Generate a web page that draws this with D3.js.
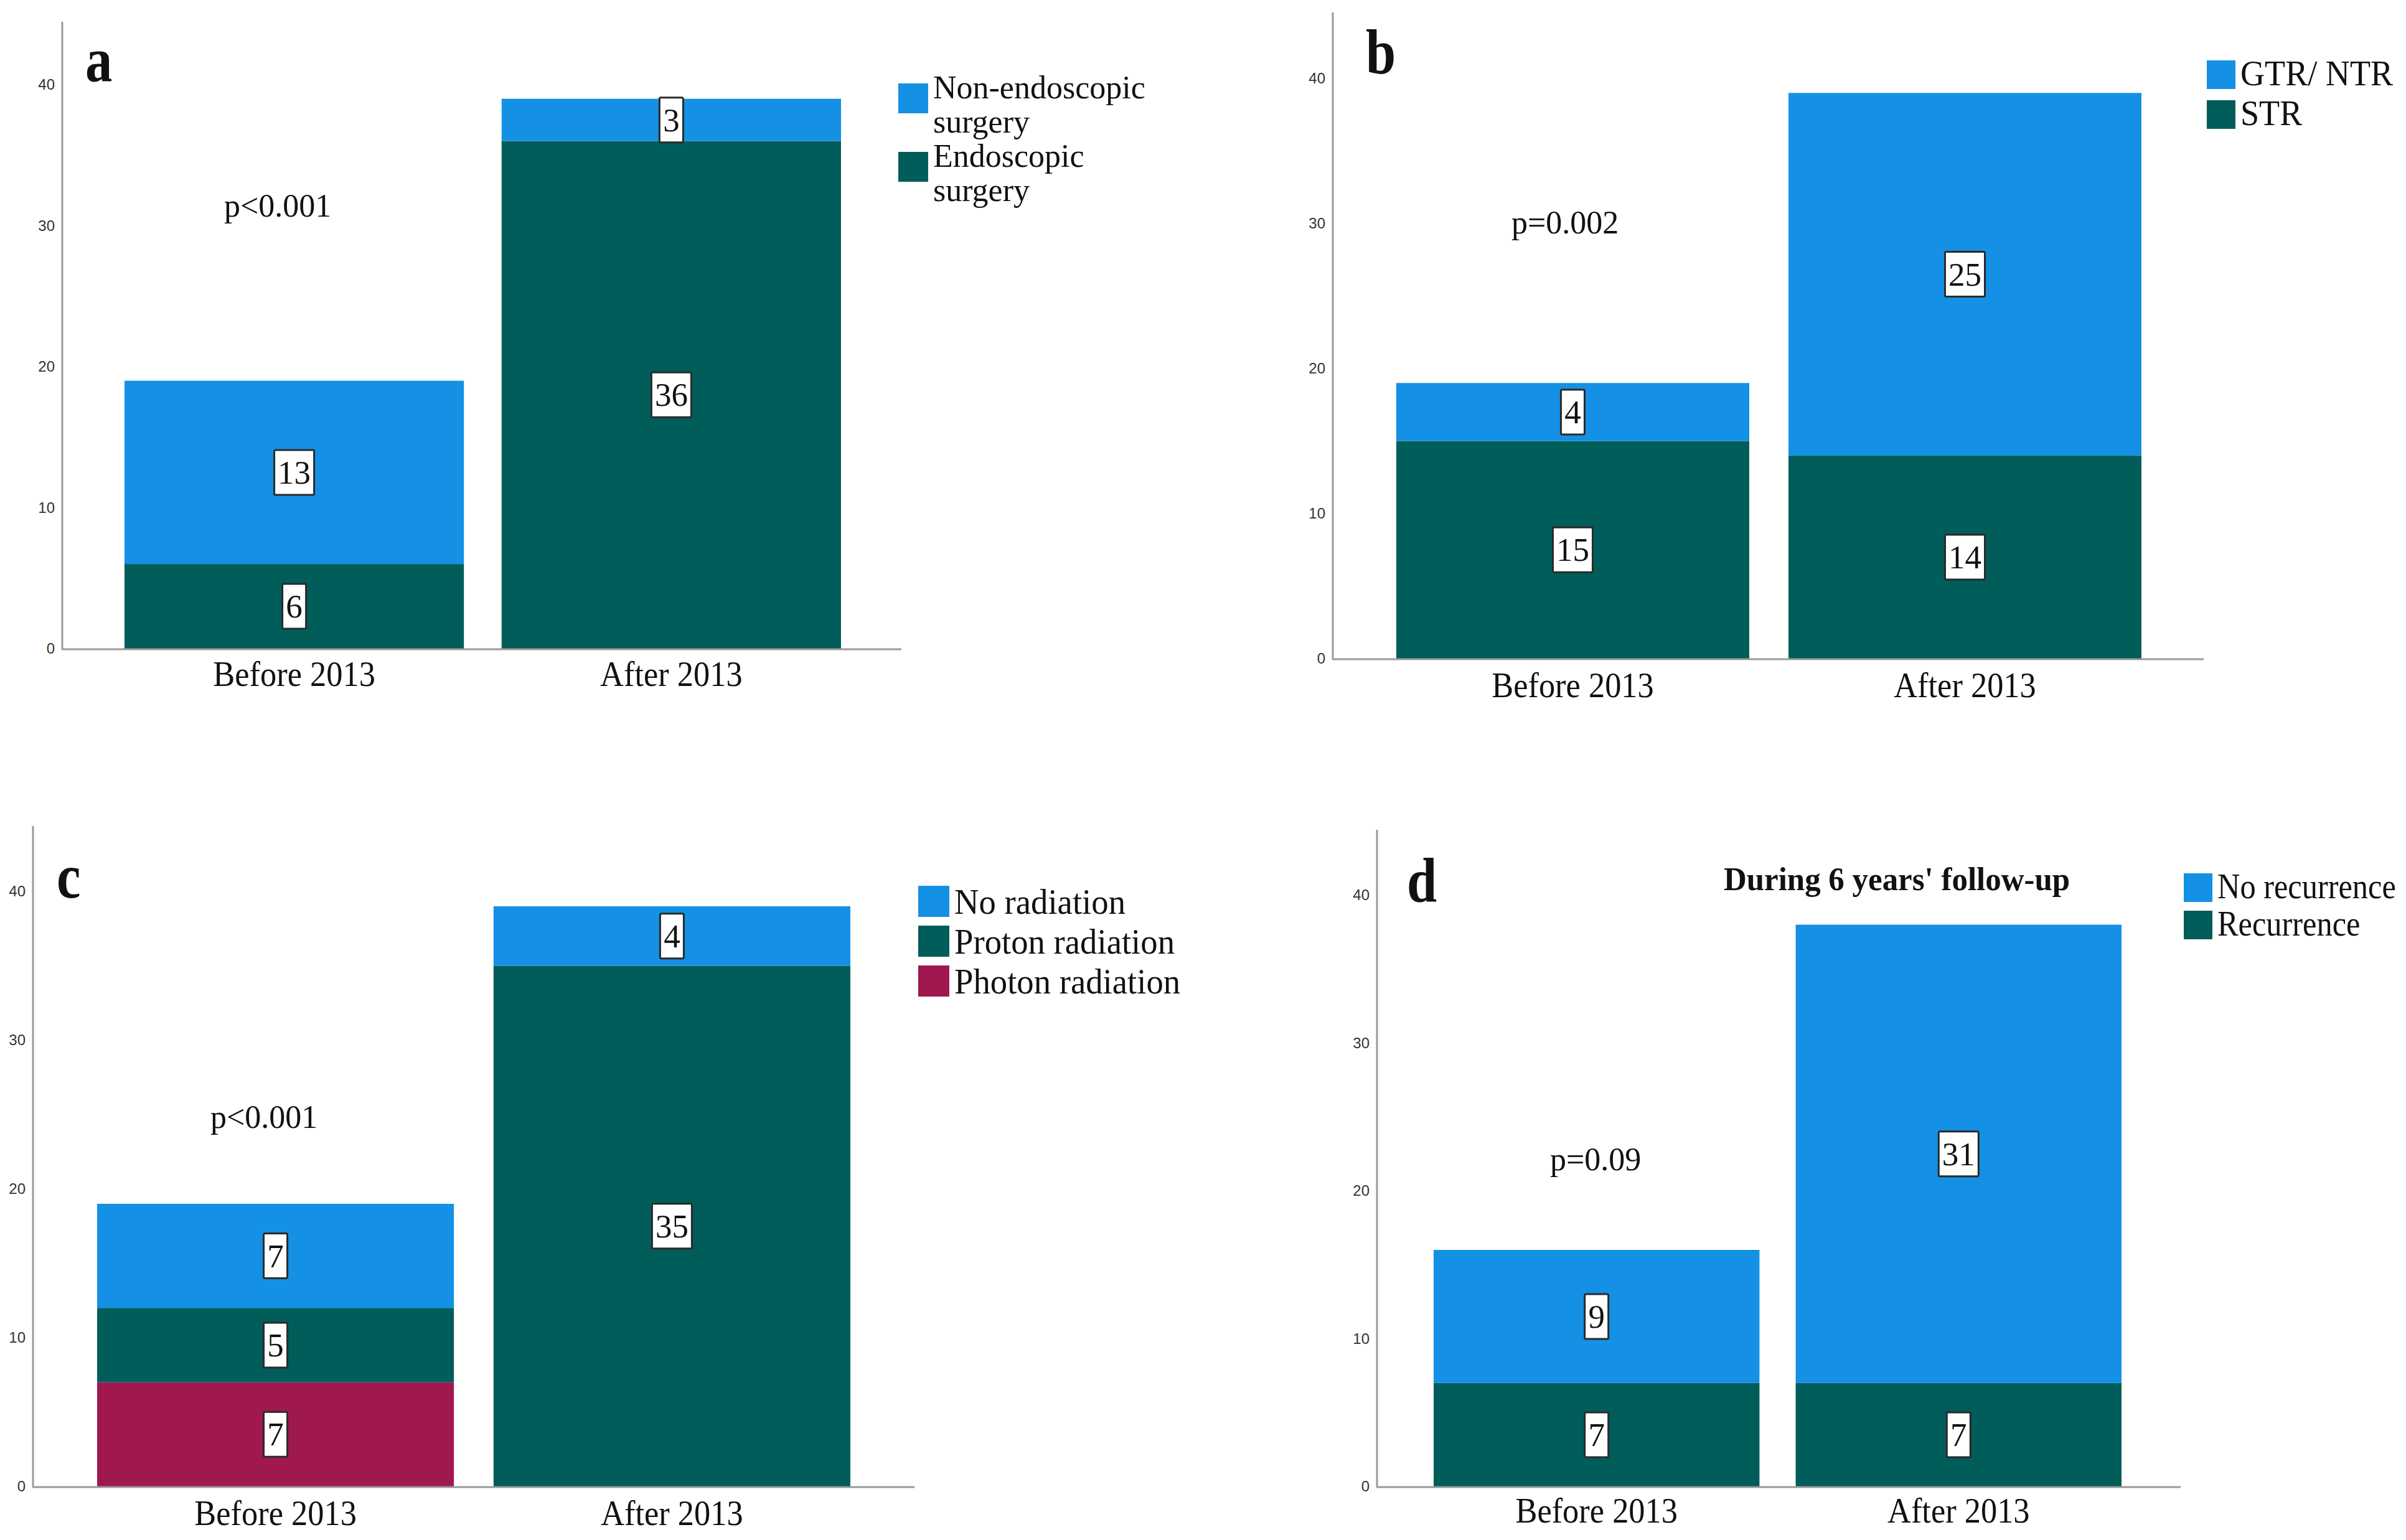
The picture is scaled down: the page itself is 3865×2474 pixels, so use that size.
<!DOCTYPE html>
<html>
<head>
<meta charset="utf-8">
<script src="https://cdn.jsdelivr.net/npm/d3@7"></script>
<style>
  body { margin: 0; background: #fff; }
  svg { display: block; }
</style>
</head>
<body>
<svg id="chart" width="3865" height="2474"></svg>
<script>
// data
var categories = ['Before 2013', 'After 2013'];
var yTicks = [0, 10, 20, 30, 40];

// panel a
var surgeryNames = ['Non-endoscopic surgery', 'Endoscopic surgery'];
var nonEndoscopic = [13, 3];
var endoscopic = [6, 36];

// panel b
var resectionNames = ['GTR/ NTR', 'STR'];
var gtrNtr = [4, 25];
var str = [15, 14];

// panel c
var radiationNames = ['No radiation', 'Proton radiation', 'Photon radiation'];
var noRadiation = [7, 4];
var protonRadiation = [5, 35];
var photonRadiation = [7, 0];

// panel d
var recurrenceNames = ['No recurrence', 'Recurrence'];
var noRecurrence = [9, 31];
var recurrence = [7, 7];

var BLUE = '#1490e4', TEAL = '#005d5a', MAROON = '#a01850';
var SERIF = '"Liberation Serif", "Times New Roman", serif';
var SANS = '"Liberation Sans", Arial, sans-serif';

var svg = d3.select('#chart');

var panels = [
	{
		letter: 'a', letterX: 137, letterY: 130,
		axisX: 100, top: 35, base: 1042, right: 1448, unit: 22.65,
		barL: 200, barR: 1351, labelY: 1102,
		p: 'p<0.001', pX: 360, pY: 348,
		// stacked bottom -> top
		series: [endoscopic, nonEndoscopic],
		colors: [TEAL, BLUE],
		legend: { names: [['Non-endoscopic', 'surgery'], ['Endoscopic', 'surgery']], colors: [BLUE, TEAL],
			x: 1443, ys: [134, 244], size: 48, font: 52, sx: 1, lineH: 55, textDy: 24 }
	},
	{
		letter: 'b', letterX: 2194, letterY: 118,
		axisX: 2141, top: 20, base: 1058, right: 3540, unit: 23.3,
		barL: 2243, barR: 3440, labelY: 1120,
		p: 'p=0.002', pX: 2428, pY: 375,
		series: [str, gtrNtr],
		colors: [TEAL, BLUE],
		legend: { names: [['GTR/ NTR'], ['STR']], colors: [BLUE, TEAL],
			x: 3545, ys: [97, 161], size: 46, font: 57, sx: 0.95, lineH: 56, textDy: 40 }
	},
	{
		letter: 'c', letterX: 91, letterY: 1442,
		axisX: 53, top: 1327, base: 2388, right: 1469, unit: 23.9,
		barL: 156, barR: 1366, labelY: 2450,
		p: 'p<0.001', pX: 338, pY: 1812,
		series: [photonRadiation, protonRadiation, noRadiation],
		colors: [MAROON, TEAL, BLUE],
		legend: { names: [['No radiation'], ['Proton radiation'], ['Photon radiation']], colors: [BLUE, TEAL, MAROON],
			x: 1475, ys: [1423, 1487, 1551], size: 50, font: 57, sx: 0.96, lineH: 56, textDy: 45 }
	},
	{
		letter: 'd', letterX: 2260, letterY: 1449,
		axisX: 2212, top: 1333, base: 2388, right: 3503, unit: 23.75,
		barL: 2303, barR: 3408, labelY: 2446,
		p: 'p=0.09', pX: 2490, pY: 1880,
		title: "During 6 years' follow-up", titleX: 3047, titleY: 1430,
		series: [recurrence, noRecurrence],
		colors: [TEAL, BLUE],
		legend: { names: [['No recurrence'], ['Recurrence']], colors: [BLUE, TEAL],
			x: 3508, ys: [1403, 1463], size: 46, font: 56, sx: 0.9, lineH: 56, textDy: 40 }
	}
];

function stretchedText(g, x, y, str, size, sx, anchor, weight) {
	return g.append('text')
		.attr('transform', 'translate(' + x + ',' + y + ') scale(' + sx + ',1)')
		.attr('text-anchor', anchor || 'start')
		.style('font-family', SERIF)
		.style('font-size', size + 'px')
		.style('font-weight', weight || 'normal')
		.style('fill', '#111')
		.text(str);
}

panels.forEach(function(pn) {
	var g = svg.append('g');
	var yMax = (pn.base - pn.top) / pn.unit;

	var x = d3.scaleBand()
		.domain(categories)
		.range([pn.barL, pn.barR])
		.paddingInner(0.1)
		.paddingOuter(0);

	var y = d3.scaleLinear()
		.domain([0, yMax])
		.range([pn.base, pn.top]);

	/*
	stacking the series
	*/
	var rows = categories.map(function(c, i) {
		var row = { cat: c };
		pn.series.forEach(function(s, k) { row['s' + k] = s[i]; });
		return row;
	});
	var keys = pn.series.map(function(s, k) { return 's' + k; });
	var stacked = d3.stack().keys(keys)(rows);

	stacked.forEach(function(layer, k) {
		g.selectAll('.seg' + k)
			.data(layer)
			.enter()
			.append('rect')
			.attr('x', function(d) { return x(d.data.cat); })
			.attr('y', function(d) { return y(d[1]); })
			.attr('width', x.bandwidth())
			.attr('height', function(d) { return y(d[0]) - y(d[1]); })
			.style('fill', pn.colors[k]);
	});

	// value boxes
	stacked.forEach(function(layer) {
		layer.forEach(function(d) {
			var v = d[1] - d[0];
			if (v <= 0) return;
			var cx = x(d.data.cat) + x.bandwidth() / 2;
			var cy = (y(d[0]) + y(d[1])) / 2;
			var label = String(v);
			var w = label.length * 26 + 12;
			g.append('rect')
				.attr('x', cx - w / 2)
				.attr('y', cy - 36)
				.attr('width', w)
				.attr('height', 72)
				.attr('rx', 2)
				.style('fill', '#fff')
				.style('stroke', '#2a2a2a')
				.style('stroke-width', 3);
			g.append('text')
				.attr('x', cx)
				.attr('y', cy + 18)
				.attr('text-anchor', 'middle')
				.style('font-family', SERIF)
				.style('font-size', '53px')
				.style('fill', '#111')
				.text(label);
		});
	});

	// axes
	g.append('line')
		.attr('x1', pn.axisX).attr('y1', pn.top)
		.attr('x2', pn.axisX).attr('y2', pn.base + 1)
		.style('stroke', '#9a9a9a').style('stroke-width', 3);
	g.append('line')
		.attr('x1', pn.axisX - 1).attr('y1', pn.base + 1)
		.attr('x2', pn.right).attr('y2', pn.base + 1)
		.style('stroke', '#9a9a9a').style('stroke-width', 3);

	var yAxis = d3.axisLeft(y).tickValues(yTicks).tickSize(0).tickPadding(12);
	var ya = g.append('g')
		.attr('transform', 'translate(' + pn.axisX + ',0)')
		.call(yAxis);
	ya.select('.domain').remove();
	ya.selectAll('text')
		.style('font-family', SANS)
		.style('font-size', '24px')
		.style('fill', '#333');

	var xAxis = d3.axisBottom(x).tickSize(0).tickPadding(0);
	var xa = g.append('g')
		.attr('transform', 'translate(0,' + pn.labelY + ')')
		.call(xAxis);
	xa.select('.domain').remove();
	xa.selectAll('text')
		.attr('dy', 0)
		.attr('transform', 'scale(0.92,1)')
		.style('font-family', SERIF)
		.style('font-size', '57px')
		.style('fill', '#111');
	xa.selectAll('.tick')
		.attr('transform', function(d) { return 'translate(' + (x(d) + x.bandwidth() / 2) + ',0)'; });

	// panel letter, p value, title
	stretchedText(g, pn.letterX, pn.letterY, pn.letter, 102, 0.85, 'start', 'bold');
	stretchedText(g, pn.pX, pn.pY, pn.p, 52, 1, 'start');
	if (pn.title) {
		stretchedText(g, pn.titleX, pn.titleY, pn.title, 52, 0.98, 'middle', 'bold');
	}

	// legend
	var lg = pn.legend;
	lg.names.forEach(function(lines, i) {
		g.append('rect')
			.attr('x', lg.x)
			.attr('y', lg.ys[i])
			.attr('width', lg.size)
			.attr('height', lg.size)
			.style('fill', lg.colors[i]);
		lines.forEach(function(line, j) {
			stretchedText(g, lg.x + lg.size + 8, lg.ys[i] + lg.textDy + j * lg.lineH, line, lg.font, lg.sx, 'start');
		});
	});
});
</script>
</body>
</html>
